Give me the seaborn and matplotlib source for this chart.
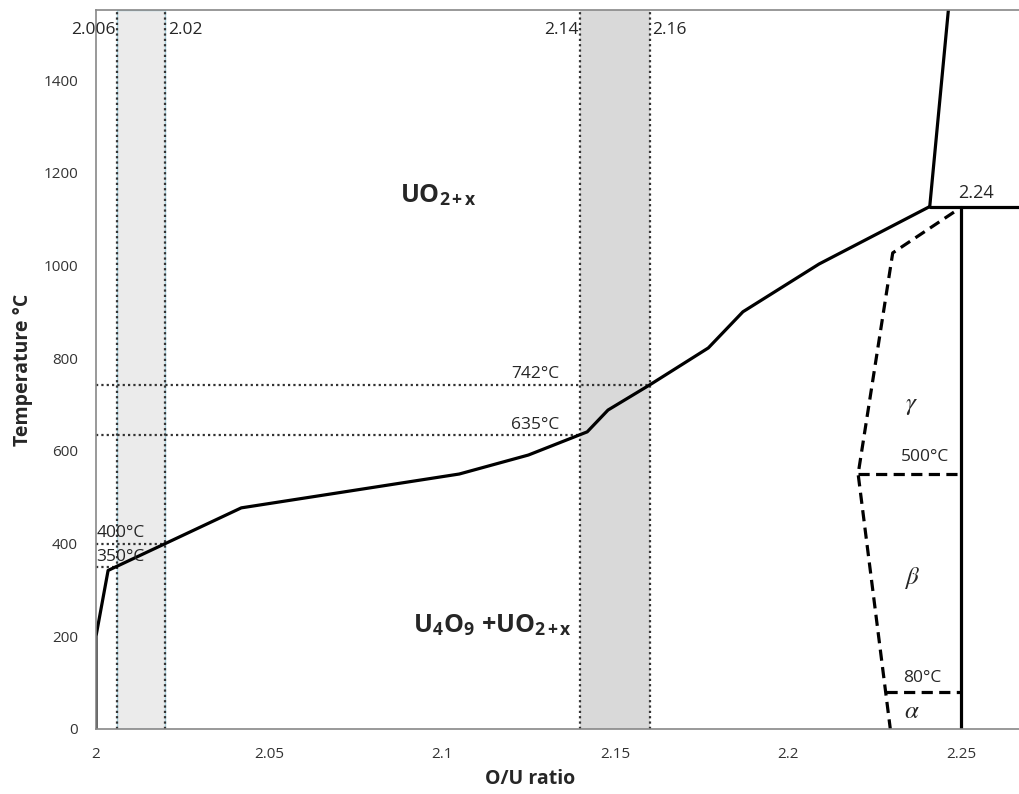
"""
U-O phase diagram near UO2 (O/U ratio vs temperature)
"""

import matplotlib
matplotlib.use("Agg")
import matplotlib.pyplot as plt
import seaborn as sns
import pandas as pd

# phase boundary UO2+x / U4O9+UO2+x
boundary_x = [2.0, 2.0, 2.0035, 2.042, 2.105, 2.125, 2.142, 2.148, 2.16, 2.177, 2.187, 2.209, 2.241]
boundary_y = [0, 200, 342, 477, 550, 591, 641, 688, 742, 822, 900, 1003, 1127]

# steep line going up from the peritectic point
upper_x = [2.241, 2.2465]
upper_y = [1127, 1560]

# dashed U4O9 alpha/beta/gamma boundary
u4o9_x = [2.248, 2.2303, 2.2203, 2.2296]
u4o9_y = [1115, 1027, 550, 0]

# transition temperatures (drawn dashed) and their labels
trans_y = [550, 80]
trans_x0 = [2.2203, 2.2283]
trans_labels = ["500°C", "80°C"]

# composition limits (dotted verticals)
comp_x = [2.006, 2.02, 2.14, 2.16]
comp_labels = ["2.006", "2.02", "2.14", "2.16"]

# temperature markers (dotted horizontals)
temp_y = [742, 635, 400, 350]
temp_x1 = [2.16, 2.14, 2.02, 2.006]
temp_labels = ["742°C", "635°C", "400°C", "350°C"]

sns.set_style("white")
plt.rcParams["font.family"] = ["Open Sans", "DejaVu Sans"]
plt.rcParams["mathtext.fontset"] = "custom"
plt.rcParams["mathtext.rm"] = "Open Sans:bold"
plt.rcParams["mathtext.it"] = "STIXGeneral:italic"

fig = plt.figure(figsize=(10.19, 7.94), dpi=100)
ax = fig.add_axes([0.0942, 0.0819, 0.9058, 0.9055])

# shaded composition bands
ax.axvspan(2.006, 2.02, color="#ebebeb", ec="#a8d0dc", lw=1.0, zorder=0)
ax.axvspan(2.14, 2.16, color="#d9d9d9", lw=0, zorder=0)

dot = (0, (1, 1.4))
for x in comp_x:
    ax.axvline(x, color="#333333", ls=dot, lw=1.6, zorder=1)
for y, x1 in zip(temp_y, temp_x1):
    ax.plot([2.0, x1], [y, y], color="#333333", ls=dot, lw=1.6, zorder=1)

solid = dict(color="black", lw=2.3, sort=False, estimator=None, legend=False)
sns.lineplot(data=pd.DataFrame({"x": boundary_x, "y": boundary_y}), x="x", y="y", ax=ax, **solid)
sns.lineplot(data=pd.DataFrame({"x": upper_x, "y": upper_y}), x="x", y="y", ax=ax, **solid)
sns.lineplot(x=[2.241, 2.27], y=[1127, 1127], ax=ax, **solid)
sns.lineplot(x=[2.25, 2.25], y=[0, 1127], ax=ax, **solid)

dash = (0, (3.5, 2))
sns.lineplot(data=pd.DataFrame({"x": u4o9_x, "y": u4o9_y}), x="x", y="y", ax=ax,
             color="black", lw=2.3, sort=False, estimator=None, legend=False)
ax.lines[-1].set_linestyle(dash)
for y, x0 in zip(trans_y, trans_x0):
    ax.plot([x0, 2.25], [y, y], color="black", lw=2.3, ls=dash)

# labels
for x, lab in zip(comp_x, comp_labels):
    ha = "right" if lab in ("2.006", "2.14") else "left"
    off = -0.0004 if ha == "right" else 0.0008
    ax.text(x + off, 1508, lab, ha=ha, va="center", fontsize=12.5)

ax.text(2.1338, 766, temp_labels[0], ha="right", va="center", fontsize=12.5)
ax.text(2.1338, 656, temp_labels[1], ha="right", va="center", fontsize=12.5)
ax.text(2.0001, 423, temp_labels[2], ha="left", va="center", fontsize=12.5)
ax.text(2.0001, 371, temp_labels[3], ha="left", va="center", fontsize=12.5)
ax.text(2.2395, 587, trans_labels[0], ha="center", va="center", fontsize=12.5)
ax.text(2.2387, 110, trans_labels[1], ha="center", va="center", fontsize=12.5)
ax.text(2.2545, 1156, "2.24", ha="center", va="center", fontsize=13)

ax.text(2.2358, 699, r"$\gamma$", ha="center", va="center", fontsize=18)
ax.text(2.2358, 326, r"$\beta$", ha="center", va="center", fontsize=18)
ax.text(2.2358, 37, r"$\alpha$", ha="center", va="center", fontsize=18)

ax.text(2.0988, 1150, r"UO$_{\mathrm{2+x}}$", ha="center", va="center",
        fontsize=18, fontweight="bold")
ax.text(2.1145, 222, r"U$_{\mathrm{4}}$O$_{\mathrm{9}}$ +UO$_{\mathrm{2+x}}$", ha="center",
        va="center", fontsize=18, fontweight="bold")

ax.set_xlim(2.0, 2.2668)
ax.set_ylim(0, 1551)
ax.set_xticks([2.0, 2.05, 2.1, 2.15, 2.2, 2.25])
ax.set_xticklabels(["2", "2.05", "2.1", "2.15", "2.2", "2.25"])
ax.set_yticks(range(0, 1401, 200))
ax.tick_params(axis="both", direction="out", length=5, width=1, color="#888888",
               labelsize=11, labelcolor="#333333", pad=8)
for side in ["left", "bottom", "top"]:
    ax.spines[side].set_color("#888888")
    ax.spines[side].set_linewidth(1.2)
ax.spines["right"].set_visible(False)

ax.set_xlabel("O/U ratio", fontsize=14, fontweight="bold")
ax.set_ylabel("Temperature °C", fontsize=14, fontweight="bold")
ax.xaxis.set_label_coords(0.47, -0.055)
ax.yaxis.set_label_coords(-0.068, 0.5)

fig.savefig("out.png", dpi=100)
